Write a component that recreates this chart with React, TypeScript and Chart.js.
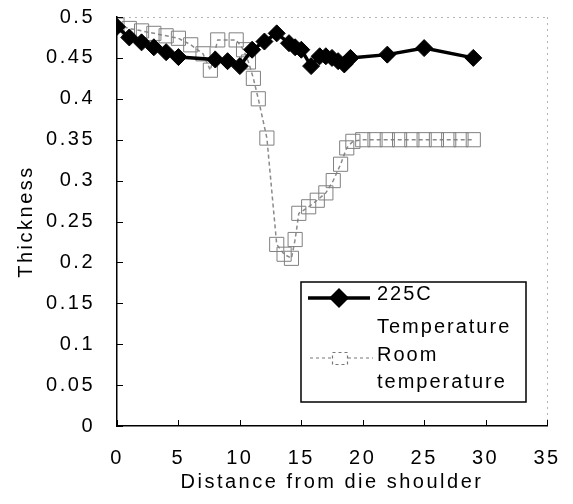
import { useEffect, useRef } from "react";
import { Chart, registerables } from "chart.js";

Chart.register(...registerables);

// 225C Temperature series
const hotX = [0, 1, 2, 3, 4, 5, 8, 9, 10, 11, 12, 13, 14, 14.5, 15, 15.8, 16.5, 17, 17.5, 18, 18.5, 19, 22, 25, 29];
const hotY = [0.488, 0.475, 0.469, 0.463, 0.457, 0.451, 0.448, 0.446, 0.44, 0.46, 0.47, 0.48, 0.468, 0.463, 0.46, 0.44, 0.452, 0.452, 0.45, 0.446, 0.442, 0.45, 0.454, 0.462, 0.45];

// Room temperature series
const roomX = [0, 1, 2, 3, 4, 5, 6, 7, 7.6, 8.2, 9.7, 10.3, 10.7, 11.1, 11.5, 12.2, 13, 13.6, 14.2, 14.5, 14.8, 15.6, 16.3, 17, 17.6, 18.2, 18.7, 19.2, 20, 21, 22, 23, 24, 25, 26, 27, 28, 29];
const roomY = [0.49, 0.486, 0.483, 0.48, 0.477, 0.474, 0.466, 0.455, 0.435, 0.472, 0.472, 0.46, 0.445, 0.425, 0.4, 0.352, 0.222, 0.21, 0.205, 0.228, 0.26, 0.268, 0.276, 0.285, 0.3, 0.32, 0.34, 0.348, 0.35, 0.35, 0.35, 0.35, 0.35, 0.35, 0.35, 0.35, 0.35, 0.35];

const xTickLabels = ["0", "5", "10", "15", "20", "25", "30", "35"];
const yTickLabels = ["0", "0.05", "0.1", "0.15", "0.2", "0.25", "0.3", "0.35", "0.4", "0.45", "0.5"];
const legendLines = [["225C", "Temperature"], ["Room", "temperature"]];
const xTitle = "Distance from die shoulder";
const yTitle = "Thickness";

const FONT = '"Liberation Sans", Arial, sans-serif';
const SPACING = "2.5px";

export default function App() {
  const ref = useRef<HTMLCanvasElement | null>(null);

  useEffect(() => {
    document.body.style.margin = "0";
    const canvas = ref.current!;

    const spacingPlugin = {
      id: "spacing",
      beforeDraw(chart: any) {
        chart.ctx.letterSpacing = SPACING;
      },
    };

    const decorPlugin = {
      id: "decor",
      afterDraw(chart: any) {
        const ctx = chart.ctx as CanvasRenderingContext2D;
        const { left, right, top, bottom } = chart.chartArea;
        const xs = chart.scales.x;
        const ys = chart.scales.y;
        ctx.save();
        // faint top and right border
        ctx.strokeStyle = "#b5b5b5";
        ctx.lineWidth = 1;
        ctx.setLineDash([2, 4]);
        ctx.beginPath();
        ctx.moveTo(left, top + 0.5);
        ctx.lineTo(right, top + 0.5);
        ctx.moveTo(right + 0.5, top);
        ctx.lineTo(right + 0.5, bottom);
        ctx.stroke();
        ctx.setLineDash([]);
        // inward tick marks
        ctx.strokeStyle = "#000";
        ctx.lineWidth = 1;
        ctx.beginPath();
        for (let i = 0; i < xTickLabels.length; i++) {
          const px = Math.round(xs.getPixelForValue(Number(xTickLabels[i]))) + 0.5;
          ctx.moveTo(px, bottom);
          ctx.lineTo(px, bottom - 6);
        }
        for (let i = 0; i < yTickLabels.length; i++) {
          const py = Math.round(ys.getPixelForValue(Number(yTickLabels[i]))) + 0.5;
          ctx.moveTo(left, py);
          ctx.lineTo(left + 6, py);
        }
        ctx.stroke();

        // legend
        const bx = 301, by = 282, bw = 225, bh = 120;
        ctx.fillStyle = "#fff";
        ctx.fillRect(bx, by, bw, bh);
        ctx.strokeStyle = "#000";
        ctx.lineWidth = 1.5;
        ctx.strokeRect(bx, by, bw, bh);

        // sample 1
        ctx.lineWidth = 3.5;
        ctx.beginPath();
        ctx.moveTo(308, 298);
        ctx.lineTo(370, 298);
        ctx.stroke();
        ctx.fillStyle = "#000";
        ctx.beginPath();
        ctx.moveTo(329, 298);
        ctx.lineTo(339, 288);
        ctx.lineTo(349, 298);
        ctx.lineTo(339, 308);
        ctx.closePath();
        ctx.fill();

        // sample 2
        ctx.strokeStyle = "#777";
        ctx.lineWidth = 1.2;
        ctx.setLineDash([3, 3]);
        ctx.beginPath();
        ctx.moveTo(310, 358);
        ctx.lineTo(332, 358);
        ctx.moveTo(348, 358);
        ctx.lineTo(373, 358);
        ctx.stroke();
        ctx.strokeRect(332.5, 352.5, 15, 12);
        ctx.setLineDash([]);

        ctx.fillStyle = "#000";
        ctx.font = `20px ${FONT}`;
        ctx.letterSpacing = "2px";
        ctx.textAlign = "left";
        ctx.textBaseline = "alphabetic";
        ctx.fillText(legendLines[0][0], 377, 300);
        ctx.fillText(legendLines[0][1], 377, 333);
        ctx.fillText(legendLines[1][0], 377, 361);
        ctx.fillText(legendLines[1][1], 377, 388);
        ctx.restore();
      },
    };

    const chart = new Chart(canvas, {
      type: "line",
      data: {
        datasets: [
          {
            label: legendLines[0].join(" "),
            data: hotX.map((x, i) => ({ x, y: hotY[i] })),
            borderColor: "#000",
            backgroundColor: "#000",
            borderWidth: 3.5,
            pointStyle: "rectRot",
            pointRadius: 8.5,
            pointBorderWidth: 1,
            pointBackgroundColor: "#000",
            pointBorderColor: "#000",
            tension: 0,
            order: 0,
          },
          {
            label: legendLines[1].join(" "),
            data: roomX.map((x, i) => ({ x, y: roomY[i] })),
            borderColor: "#8a8a8a",
            borderDash: [4, 3],
            borderWidth: 1.5,
            pointStyle: "rect",
            pointRadius: 10,
            pointBorderWidth: 1,
            pointBackgroundColor: "rgba(0,0,0,0)",
            pointBorderColor: "#808080",
            tension: 0,
            order: 1,
          },
        ],
      },
      options: {
        animation: false,
        responsive: false,
        maintainAspectRatio: false,
        events: [],
        layout: { padding: { top: 17, right: 26, left: 0, bottom: 0 } },
        plugins: {
          legend: { display: false },
          tooltip: { enabled: false },
        },
        scales: {
          x: {
            type: "linear",
            min: 0,
            max: 35,
            afterFit: (s: any) => {
              s.height = 78;
              s.paddingLeft = 0;
              s.paddingRight = 0;
              s.paddingTop = 0;
              s.paddingBottom = 0;
            },
            afterBuildTicks: (s: any) => {
              s.ticks = xTickLabels.map((v) => ({ value: Number(v) }));
            },
            ticks: {
              callback: (_v: any, i: number) => xTickLabels[i],
              color: "#000",
              font: { size: 20, family: FONT },
              padding: 20,
              maxRotation: 0,
            },
            grid: { display: false, drawTicks: false },
            border: { display: true, color: "#000", width: 1.5 },
            title: {
              display: true,
              text: xTitle,
              color: "#000",
              font: { size: 20, family: FONT },
              padding: { top: 0, bottom: 10 },
            },
          },
          y: {
            type: "linear",
            min: 0,
            max: 0.5,
            afterFit: (s: any) => {
              s.width = 117;
              s.paddingLeft = 0;
              s.paddingRight = 0;
              s.paddingTop = 0;
              s.paddingBottom = 0;
            },
            afterBuildTicks: (s: any) => {
              s.ticks = yTickLabels.map((v) => ({ value: Number(v) }));
            },
            ticks: {
              callback: (_v: any, i: number) => yTickLabels[i],
              color: "#000",
              font: { size: 20, family: FONT },
              padding: 22,
            },
            grid: { display: false, drawTicks: false },
            border: { display: true, color: "#000", width: 1.5 },
            title: {
              display: true,
              text: yTitle,
              color: "#000",
              font: { size: 20, family: FONT },
              padding: { top: 14, bottom: 0 },
            },
          },
        },
      },
      plugins: [spacingPlugin, decorPlugin],
    });

    return () => chart.destroy();
  }, []);

  return (
    <div style={{ width: 573, height: 504, background: "#fff" }}>
      <canvas ref={ref} width={573} height={504} style={{ display: "block", width: 573, height: 504 }} />
    </div>
  );
}
